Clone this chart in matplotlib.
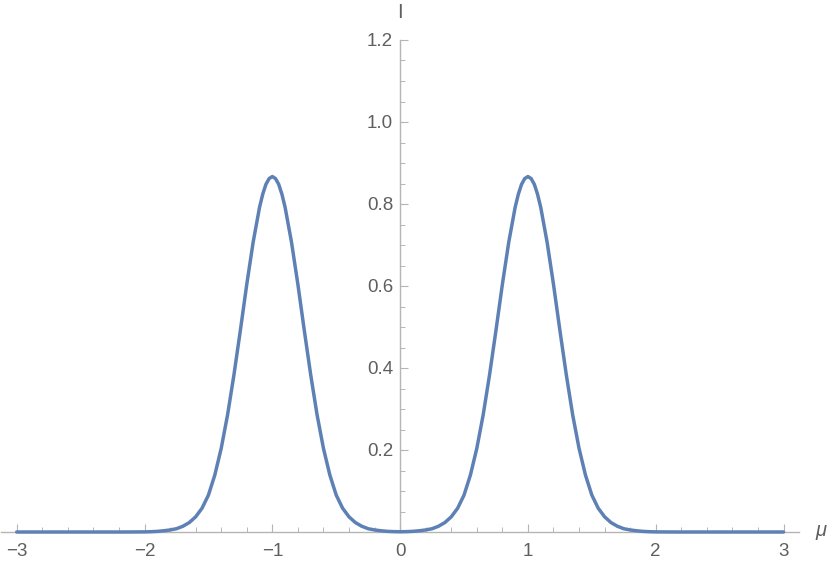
import matplotlib
matplotlib.use("Agg")
import matplotlib.pyplot as plt
from matplotlib.ticker import MultipleLocator, FixedLocator

mu = [-3.0, -2.5, -2.2, -2.1, -2.0, -1.95, -1.9, -1.85, -1.8, -1.75, -1.7, -1.65,
      -1.6, -1.55, -1.5, -1.45, -1.4, -1.35, -1.3, -1.25, -1.2, -1.15, -1.1, -1.075,
      -1.05, -1.025, -1.0, -0.975, -0.95, -0.925, -0.9, -0.85, -0.8, -0.75, -0.7,
      -0.65, -0.6, -0.55, -0.5, -0.45, -0.4, -0.35, -0.3, -0.25, -0.2, -0.15, -0.1,
      -0.05, 0.0, 0.05, 0.1, 0.15, 0.2, 0.25, 0.3, 0.35, 0.4, 0.45, 0.5, 0.55, 0.6,
      0.65, 0.7, 0.75, 0.8, 0.85, 0.9, 0.925, 0.95, 0.975, 1.0, 1.025, 1.05, 1.075,
      1.1, 1.15, 1.2, 1.25, 1.3, 1.35, 1.4, 1.45, 1.5, 1.55, 1.6, 1.65, 1.7, 1.75,
      1.8, 1.85, 1.9, 1.95, 2.0, 2.1, 2.2, 2.5, 3.0]

intensity = [0.0, 0.0, 0.0, 0.0001, 0.0003, 0.0007, 0.0015, 0.003, 0.005, 0.008, 0.014,
             0.023, 0.037, 0.058, 0.090, 0.139, 0.204, 0.286, 0.384, 0.492, 0.604, 0.707,
             0.792, 0.824, 0.848, 0.862, 0.867, 0.862, 0.848, 0.824, 0.792, 0.707, 0.604,
             0.492, 0.384, 0.286, 0.204, 0.139, 0.090, 0.058, 0.037, 0.023, 0.014, 0.008,
             0.005, 0.003, 0.0016, 0.0009, 0.0006, 0.0009, 0.0016, 0.003, 0.005, 0.008,
             0.014, 0.023, 0.037, 0.058, 0.090, 0.139, 0.204, 0.286, 0.384, 0.492, 0.604,
             0.707, 0.792, 0.824, 0.848, 0.862, 0.867, 0.862, 0.848, 0.824, 0.792, 0.707,
             0.604, 0.492, 0.384, 0.286, 0.204, 0.139, 0.090, 0.058, 0.037, 0.023, 0.014,
             0.008, 0.005, 0.003, 0.0015, 0.0007, 0.0003, 0.0001, 0.0, 0.0, 0.0]

x_ticks = [-3, -2, -1, 0, 1, 2, 3]
x_labels = ["\u22123", "\u22122", "\u22121", "0", "1", "2", "3"]
y_ticks = [0.2, 0.4, 0.6, 0.8, 1.0, 1.2]
y_labels = ["0.2", "0.4", "0.6", "0.8", "1.0", "1.2"]

plt.rcParams['font.family'] = ['Liberation Sans', 'DejaVu Sans']

axis_col = "#b5b5b5"
text_col = "#5f5f5f"
line_col = "#5e81b5"

fig = plt.figure(figsize=(8.30, 5.69), dpi=100)
ax = fig.add_axes([1 / 830, 37 / 569, 798 / 830, 492 / 569])
ax.plot(mu, intensity, color=line_col, lw=2.5, clip_on=False,
        solid_joinstyle='round', solid_capstyle='round')

ax.set_xlim(-3.123, 3.121)
ax.set_ylim(0, 1.2)

for s in ["top", "right"]:
    ax.spines[s].set_visible(False)
ax.spines["left"].set_position(("data", 0))
ax.spines["bottom"].set_position(("data", 0))
for s in ["left", "bottom"]:
    ax.spines[s].set_color(axis_col)
    ax.spines[s].set_linewidth(1.0)
    ax.spines[s].set_zorder(0)

ax.xaxis.set_major_locator(FixedLocator(x_ticks))
ax.set_xticklabels(x_labels)
ax.xaxis.set_minor_locator(MultipleLocator(0.2))
ax.yaxis.set_major_locator(FixedLocator(y_ticks))
ax.set_yticklabels(y_labels)
ax.yaxis.set_minor_locator(MultipleLocator(0.05))

ax.tick_params(axis="both", which="major", direction="in", length=6, width=0.8,
               color=axis_col, labelcolor=text_col, labelsize=13.5)
ax.tick_params(axis="both", which="minor", direction="in", length=3.6, width=0.7,
               color=axis_col)
ax.tick_params(axis="x", which="major", pad=8)
ax.tick_params(axis="y", which="major", pad=5)

ax.annotate("I", xy=(0, 1.2), xytext=(0, 20), textcoords="offset points",
            ha="center", va="center", fontsize=14.5, color=text_col, annotation_clip=False)
ax.annotate("\u03bc", xy=(3.121, 0), xytext=(16, 1), textcoords="offset points",
            ha="center", va="center", fontsize=14.5, color=text_col, style="italic",
            annotation_clip=False)

fig.savefig("out.png", dpi=100)
